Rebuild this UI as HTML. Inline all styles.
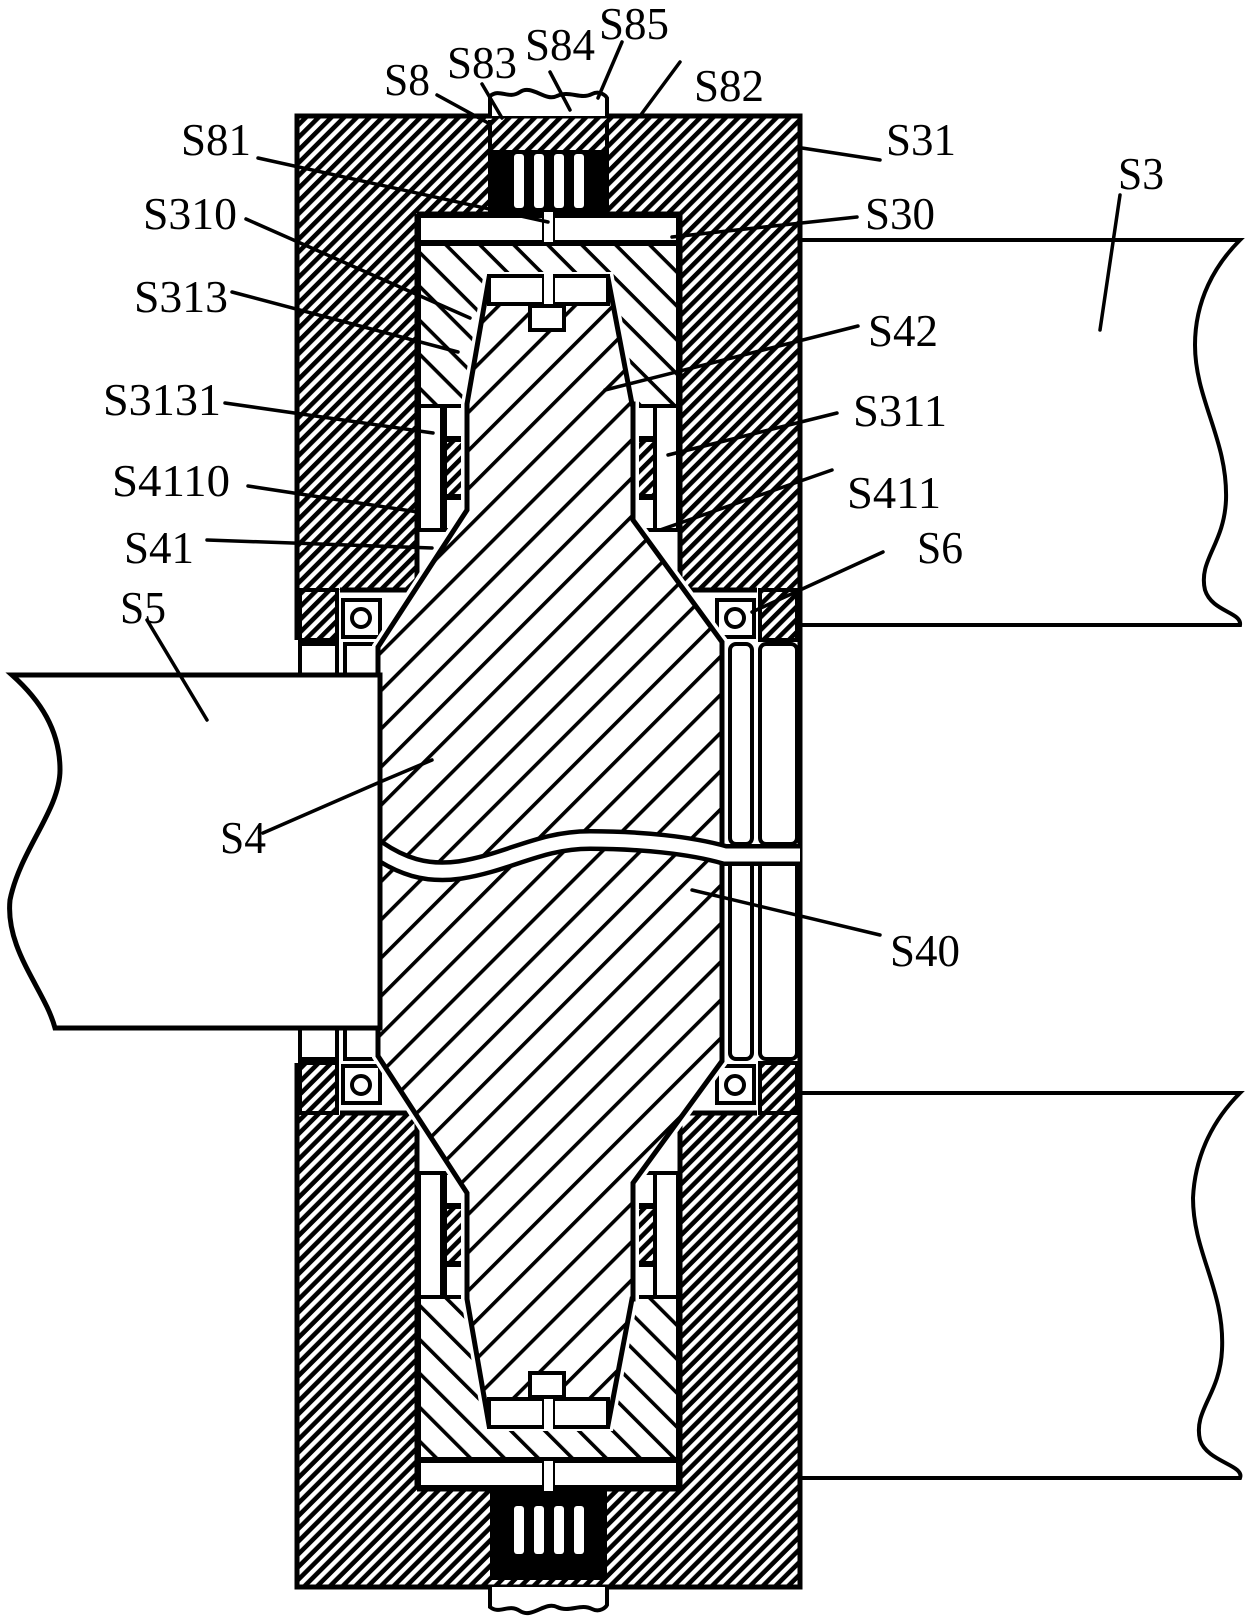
<!DOCTYPE html>
<html><head><meta charset="utf-8"><style>
html,body{margin:0;padding:0;background:#fff;}
svg{display:block}
text{font-family:"Liberation Serif",serif;font-size:46px;fill:#000;}
</style></head><body>
<svg width="1253" height="1620" viewBox="0 0 1253 1620" xmlns="http://www.w3.org/2000/svg">
<defs>
<pattern id="hdA" width="9" height="9" patternUnits="userSpaceOnUse" patternTransform="rotate(-45)"><rect width="9" height="9" fill="#fff"/><rect width="9" height="4.6" fill="#000"/></pattern>
<pattern id="hdB" width="9" height="9" patternUnits="userSpaceOnUse" patternTransform="rotate(45)"><rect width="9" height="9" fill="#fff"/><rect width="9" height="4.6" fill="#000"/></pattern>
<pattern id="hcA" width="27" height="27" patternUnits="userSpaceOnUse" patternTransform="rotate(-45)"><rect width="27" height="27" fill="#fff"/><rect width="27" height="3.6" fill="#000"/></pattern>
<pattern id="hsA" width="24" height="24" patternUnits="userSpaceOnUse" patternTransform="rotate(45)"><rect width="24" height="24" fill="#fff"/><rect width="24" height="3.6" fill="#000"/></pattern>
<pattern id="hsB" width="24" height="24" patternUnits="userSpaceOnUse" patternTransform="rotate(-45)"><rect width="24" height="24" fill="#fff"/><rect width="24" height="3.6" fill="#000"/></pattern>
</defs>

<!-- S3 plates -->
<path d="M800,240 H1240 C1215,265 1195,300 1195,345 C1195,400 1228,440 1226,500 C1224,545 1198,560 1205,590 C1212,612 1242,612 1240,625 H800" fill="#fff" stroke="#000" stroke-width="4"/>
<path d="M800,1093 H1240 C1215,1118 1195,1153 1193,1198 C1193,1253 1225,1290 1222,1350 C1220,1395 1193,1410 1200,1440 C1207,1462 1245,1465 1240,1478 H800" fill="#fff" stroke="#000" stroke-width="4"/>

<!-- TOP HALF -->
<g>
<rect x="297" y="116" width="503" height="524" fill="url(#hdA)"/>
<rect x="490" y="150" width="117" height="62" fill="#000"/>
<rect x="514" y="154" width="10" height="54" rx="3" fill="#fff"/>
<rect x="534" y="154" width="10" height="54" rx="3" fill="#fff"/>
<rect x="554" y="154" width="10" height="54" rx="3" fill="#fff"/>
<rect x="574" y="154" width="10" height="54" rx="3" fill="#fff"/>
<path d="M490,120 V212 M607,120 V212" stroke="#000" stroke-width="4"/>
<path d="M417,214 H680 V590 H797 V852 H300 V590 H417 Z" fill="#fff"/>
<path d="M417,214 H680 V590 H757 M417,214 V590 H340" fill="none" stroke="#000" stroke-width="5"/>
<rect x="300" y="590" width="37" height="50" fill="url(#hdA)" stroke="#000" stroke-width="4"/>
<rect x="300" y="644" width="37" height="31" fill="#fff" stroke="#000" stroke-width="4"/>
<rect x="345" y="644" width="35" height="31" fill="#fff" stroke="#000" stroke-width="4"/>
<rect x="760" y="590" width="37" height="50" fill="url(#hdA)" stroke="#000" stroke-width="4"/>
<rect x="730" y="644" width="22" height="200" rx="6" fill="#fff" stroke="#000" stroke-width="4"/>
<rect x="760" y="644" width="37" height="200" rx="6" fill="#fff" stroke="#000" stroke-width="4"/>
<rect x="343" y="600" width="37" height="37" fill="#fff" stroke="#000" stroke-width="4"/>
<circle cx="361" cy="618" r="9" fill="none" stroke="#000" stroke-width="4"/>
<rect x="717" y="600" width="37" height="37" fill="#fff" stroke="#000" stroke-width="4"/>
<circle cx="735" cy="618" r="9" fill="none" stroke="#000" stroke-width="4"/>
<path d="M297,640 V116 H800 V852" fill="none" stroke="#000" stroke-width="5"/>
<rect x="419" y="216" width="125" height="26" fill="#fff" stroke="#000" stroke-width="4"/>
<rect x="553" y="216" width="125" height="26" fill="#fff" stroke="#000" stroke-width="4"/>
<rect x="544" y="212" width="9" height="32" fill="#fff"/>
<rect x="419" y="244" width="259" height="162" fill="url(#hsA)" stroke="#000" stroke-width="4"/>
<rect x="419" y="406" width="23" height="124" fill="#fff" stroke="#000" stroke-width="4"/>
<rect x="445" y="406" width="20" height="32" fill="#fff" stroke="#000" stroke-width="4"/>
<rect x="445" y="440" width="20" height="56" fill="url(#hdA)" stroke="#000" stroke-width="4"/>
<rect x="445" y="498" width="20" height="32" fill="#fff" stroke="#000" stroke-width="4"/>
<rect x="655" y="406" width="23" height="124" fill="#fff" stroke="#000" stroke-width="4"/>
<rect x="635" y="406" width="20" height="32" fill="#fff" stroke="#000" stroke-width="4"/>
<rect x="635" y="440" width="20" height="56" fill="url(#hdA)" stroke="#000" stroke-width="4"/>
<rect x="635" y="498" width="20" height="32" fill="#fff" stroke="#000" stroke-width="4"/>
<path d="M490,116 V96 C500,88 508,100 520,92 C532,84 545,102 557,96 C570,90 580,100 592,94 C600,90 606,96 607,98 V116" fill="#fff" stroke="#000" stroke-width="4"/>
</g>

<!-- BOTTOM HALF (mirrored) -->
<g transform="matrix(1,0,0,-1,0,1703)">
<rect x="297" y="116" width="503" height="524" fill="url(#hdB)"/>
<path d="M417,214 H680 V590 H797 V852 H300 V590 H417 Z" fill="#fff"/>
<path d="M417,214 H680 V590 H757 M417,214 V590 H340" fill="none" stroke="#000" stroke-width="5"/>
<rect x="300" y="590" width="37" height="50" fill="url(#hdB)" stroke="#000" stroke-width="4"/>
<rect x="300" y="644" width="37" height="31" fill="#fff" stroke="#000" stroke-width="4"/>
<rect x="345" y="644" width="35" height="31" fill="#fff" stroke="#000" stroke-width="4"/>
<rect x="760" y="590" width="37" height="50" fill="url(#hdB)" stroke="#000" stroke-width="4"/>
<rect x="730" y="644" width="22" height="200" rx="6" fill="#fff" stroke="#000" stroke-width="4"/>
<rect x="760" y="644" width="37" height="200" rx="6" fill="#fff" stroke="#000" stroke-width="4"/>
<rect x="343" y="600" width="37" height="37" fill="#fff" stroke="#000" stroke-width="4"/>
<circle cx="361" cy="618" r="9" fill="none" stroke="#000" stroke-width="4"/>
<rect x="717" y="600" width="37" height="37" fill="#fff" stroke="#000" stroke-width="4"/>
<circle cx="735" cy="618" r="9" fill="none" stroke="#000" stroke-width="4"/>
<path d="M297,640 V116 H800 V852" fill="none" stroke="#000" stroke-width="5"/>
<rect x="419" y="216" width="125" height="26" fill="#fff" stroke="#000" stroke-width="4"/>
<rect x="553" y="216" width="125" height="26" fill="#fff" stroke="#000" stroke-width="4"/>
<rect x="544" y="212" width="9" height="32" fill="#fff"/>
<rect x="419" y="244" width="259" height="162" fill="url(#hsB)" stroke="#000" stroke-width="4"/>
<rect x="419" y="406" width="23" height="124" fill="#fff" stroke="#000" stroke-width="4"/>
<rect x="445" y="406" width="20" height="32" fill="#fff" stroke="#000" stroke-width="4"/>
<rect x="445" y="440" width="20" height="56" fill="url(#hdB)" stroke="#000" stroke-width="4"/>
<rect x="445" y="498" width="20" height="32" fill="#fff" stroke="#000" stroke-width="4"/>
<rect x="655" y="406" width="23" height="124" fill="#fff" stroke="#000" stroke-width="4"/>
<rect x="635" y="406" width="20" height="32" fill="#fff" stroke="#000" stroke-width="4"/>
<rect x="635" y="440" width="20" height="56" fill="url(#hdB)" stroke="#000" stroke-width="4"/>
<rect x="635" y="498" width="20" height="32" fill="#fff" stroke="#000" stroke-width="4"/>
<path d="M490,116 V96 C500,88 508,100 520,92 C532,84 545,102 557,96 C570,90 580,100 592,94 C600,90 606,96 607,98 V116" fill="#fff" stroke="#000" stroke-width="4"/>
</g>

<!-- bottom cap S8 (global coords) -->
<rect x="490" y="1491" width="117" height="89" fill="#000"/>
<rect x="514" y="1506" width="10" height="48" rx="3" fill="#fff"/>
<rect x="534" y="1506" width="10" height="48" rx="3" fill="#fff"/>
<rect x="554" y="1506" width="10" height="48" rx="3" fill="#fff"/>
<rect x="574" y="1506" width="10" height="48" rx="3" fill="#fff"/>

<!-- S4 body, single continuous hatch -->
<path d="M489,278 H608 L632,404 H633 V520 L722,642 V1061 L633,1183 V1299 H632 L608,1425 H489 L467,1299 V1193 L378,1056 V647 L467,510 V404 Z" fill="#fff" stroke="#fff" stroke-width="12"/>
<path d="M489,278 H608 L632,404 H633 V520 L722,642 V1061 L633,1183 V1299 H632 L608,1425 H489 L467,1299 V1193 L378,1056 V647 L467,510 V404 Z" fill="url(#hcA)" stroke="#000" stroke-width="5"/>

<!-- S42 caps top -->
<rect x="489" y="276" width="55" height="28" fill="#fff" stroke="#000" stroke-width="4"/>
<rect x="553" y="276" width="55" height="28" fill="#fff" stroke="#000" stroke-width="4"/>
<rect x="544" y="274" width="9" height="32" fill="#fff"/>
<rect x="530" y="306" width="34" height="24" fill="#fff" stroke="#000" stroke-width="4"/>
<!-- S42 caps bottom -->
<rect x="489" y="1399" width="55" height="28" fill="#fff" stroke="#000" stroke-width="4"/>
<rect x="553" y="1399" width="55" height="28" fill="#fff" stroke="#000" stroke-width="4"/>
<rect x="544" y="1397" width="9" height="32" fill="#fff"/>
<rect x="530" y="1373" width="34" height="24" fill="#fff" stroke="#000" stroke-width="4"/>

<!-- S40 channel -->
<path d="M378,850 C400,865 425,875 460,870 C510,862 540,840 590,840 C640,840 690,845 725,855 H800" fill="none" stroke="#000" stroke-width="22"/>
<path d="M378,850 C400,865 425,875 460,870 C510,862 540,840 590,840 C640,840 690,845 725,855 H800" fill="none" stroke="#fff" stroke-width="13"/>

<!-- S5 shaft -->
<path d="M380,675 H12 C40,700 60,730 60,770 C60,810 20,850 10,900 C5,950 45,990 55,1028 H380 Z" fill="#fff" stroke="#000" stroke-width="5"/>

<!-- leader lines -->
<g stroke="#000" stroke-width="3.5" fill="none" stroke-linecap="round">
<path d="M437,95 L490,124"/>
<path d="M482,84 L502,118"/>
<path d="M550,72 L570,110"/>
<path d="M622,42 L598,98"/>
<path d="M680,62 L640,116"/>
<path d="M802,148 L880,160"/>
<path d="M258,158 L548,222"/>
<path d="M246,219 L470,318"/>
<path d="M232,292 L458,352"/>
<path d="M225,403 L433,433"/>
<path d="M248,486 L418,512"/>
<path d="M207,540 L432,548"/>
<path d="M858,326 L605,390"/>
<path d="M837,413 L668,455"/>
<path d="M832,470 L660,530"/>
<path d="M883,552 L752,612"/>
<path d="M147,620 L207,720"/>
<path d="M263,833 L380,782 L432,760"/>
<path d="M880,935 L692,890"/>
<path d="M1120,195 L1100,330"/>
<path d="M857,217 L672,237"/>
</g>

<!-- labels -->
<text x="384" y="95" textLength="46" lengthAdjust="spacingAndGlyphs">S8</text>
<text x="447" y="78" textLength="70" lengthAdjust="spacingAndGlyphs">S83</text>
<text x="525" y="60" textLength="70" lengthAdjust="spacingAndGlyphs">S84</text>
<text x="599" y="39" textLength="70" lengthAdjust="spacingAndGlyphs">S85</text>
<text x="694" y="101" textLength="70" lengthAdjust="spacingAndGlyphs">S82</text>
<text x="886" y="155" textLength="70" lengthAdjust="spacingAndGlyphs">S31</text>
<text x="181" y="155" textLength="70" lengthAdjust="spacingAndGlyphs">S81</text>
<text x="865" y="229" textLength="70" lengthAdjust="spacingAndGlyphs">S30</text>
<text x="1118" y="189" textLength="46" lengthAdjust="spacingAndGlyphs">S3</text>
<text x="143" y="229" textLength="94" lengthAdjust="spacingAndGlyphs">S310</text>
<text x="134" y="312" textLength="94" lengthAdjust="spacingAndGlyphs">S313</text>
<text x="868" y="346" textLength="70" lengthAdjust="spacingAndGlyphs">S42</text>
<text x="103" y="415" textLength="118" lengthAdjust="spacingAndGlyphs">S3131</text>
<text x="853" y="426" textLength="94" lengthAdjust="spacingAndGlyphs">S311</text>
<text x="112" y="496" textLength="118" lengthAdjust="spacingAndGlyphs">S4110</text>
<text x="847" y="508" textLength="94" lengthAdjust="spacingAndGlyphs">S411</text>
<text x="124" y="563" textLength="70" lengthAdjust="spacingAndGlyphs">S41</text>
<text x="917" y="563" textLength="46" lengthAdjust="spacingAndGlyphs">S6</text>
<text x="120" y="623" textLength="46" lengthAdjust="spacingAndGlyphs">S5</text>
<text x="220" y="853" textLength="46" lengthAdjust="spacingAndGlyphs">S4</text>
<text x="890" y="966" textLength="70" lengthAdjust="spacingAndGlyphs">S40</text>
</svg>
</body></html>
